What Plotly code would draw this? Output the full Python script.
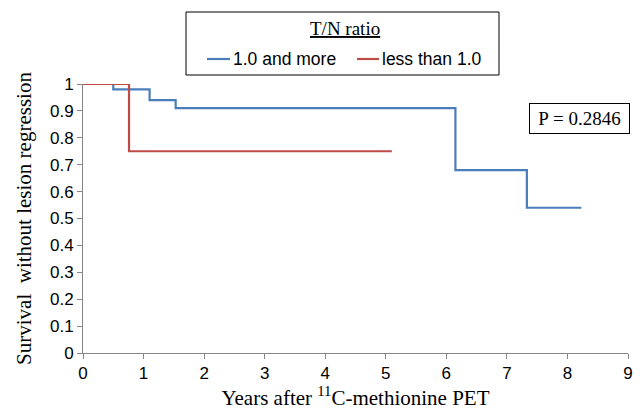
import plotly.graph_objects as go

# Kaplan-Meier step data
blue_x = [0, 0.5, 0.5, 1.1, 1.1, 1.53, 1.53, 6.15, 6.15, 7.33, 7.33, 8.23]
blue_y = [1.0, 1.0, 0.98, 0.98, 0.94, 0.94, 0.91, 0.91, 0.68, 0.68, 0.54, 0.54]
red_x = [0, 0.76, 0.76, 5.1]
red_y = [1.0, 1.0, 0.75, 0.75]
series_names = ["1.0 and more", "less than 1.0"]

x_ticks = list(range(0, 10))
y_ticks = [round(i * 0.1, 1) for i in range(0, 11)]
y_tick_labels = ["0", "0.1", "0.2", "0.3", "0.4", "0.5", "0.6", "0.7", "0.8", "0.9", "1"]

BLUE = "#4a7ebb"
RED = "#be4b48"
SANS = "Liberation Sans"
SERIF = "Liberation Serif"

# plot area in pixels: x 83..628, y 84..353
L, R, T, B = 83, 12, 84, 58
PW, PH = 640 - L - R, 411 - T - B


def px(x):
    return (x - L) / PW


def py(y):
    return (411 - B - y) / PH


fig = go.Figure()
fig.add_trace(go.Scatter(x=blue_x, y=blue_y, mode="lines", name=series_names[0],
                         line=dict(color=BLUE, width=2.2), showlegend=False))
fig.add_trace(go.Scatter(x=red_x, y=red_y, mode="lines", name=series_names[1],
                         line=dict(color=RED, width=2.2), showlegend=False))

# P-value box
fig.add_annotation(x=px(630), y=py(118.5), xref="paper", yref="paper", xanchor="right", yanchor="middle",
                   text="P = 0.2846", showarrow=False, width=91, height=21,
                   font=dict(family=SERIF, size=19, color="black"),
                   bordercolor="black", borderwidth=1, borderpad=4, bgcolor="white")

# legend drawn manually (box, title, samples, labels)
fig.add_shape(type="rect", xref="paper", yref="paper", x0=px(186), x1=px(499), y0=py(75), y1=py(12),
              line=dict(color="black", width=1), fillcolor="white", layer="above")
fig.add_annotation(x=px(344.5), y=py(29), xref="paper", yref="paper", xanchor="center", yanchor="middle",
                   text="<u>T/N ratio</u>", showarrow=False,
                   font=dict(family=SERIF, size=19, color="black"))
for (x0, x1, tx, color, name) in [(207, 230, 232, BLUE, series_names[0]),
                                  (357, 379, 381, RED, series_names[1])]:
    fig.add_shape(type="line", xref="paper", yref="paper", x0=px(x0), x1=px(x1), y0=py(59), y1=py(59),
                  line=dict(color=color, width=2.2), layer="above")
    fig.add_annotation(x=px(tx), y=py(59), xref="paper", yref="paper", xanchor="left", yanchor="middle",
                       text=name, showarrow=False, xshift=-1,
                       font=dict(family=SANS, size=17.5, color="black"))

fig.update_layout(
    width=640, height=411,
    margin=dict(l=L, r=R, t=T, b=B, autoexpand=False),
    plot_bgcolor="white", paper_bgcolor="white",
    showlegend=False,
    xaxis=dict(range=[0, 9], tickvals=x_ticks, showgrid=False, zeroline=False, automargin=False,
               showline=True, linecolor="#868686", linewidth=1,
               ticks="outside", ticklen=5, tickcolor="#868686",
               tickfont=dict(family=SANS, size=17, color="black"),
               title=dict(text="Years after <sup>11</sup>C-methionine PET",
                          font=dict(family=SERIF, size=21, color="black"), standoff=3)),
    yaxis=dict(range=[0, 1], tickvals=y_ticks, ticktext=y_tick_labels, showgrid=False, zeroline=False,
               automargin=False,
               showline=True, linecolor="#868686", linewidth=1,
               ticks="outside", ticklen=5, tickcolor="#868686",
               tickfont=dict(family=SANS, size=17, color="black"),
               title=dict(text="Survival  without lesion regression",
                          font=dict(family=SERIF, size=21, color="black"), standoff=12)),
)

fig.write_html("out.html", config={"displayModeBar": False},
               post_script="document.body.style.margin='0';")
